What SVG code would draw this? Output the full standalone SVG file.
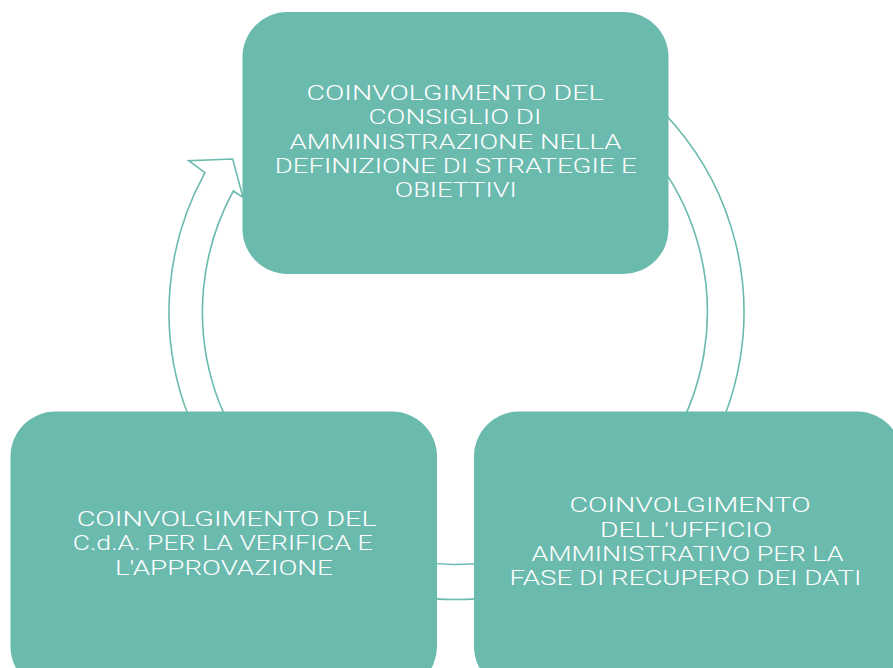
<svg xmlns="http://www.w3.org/2000/svg" width="893" height="668" viewBox="0 0 893 668">
<style>
.box{fill:#6BBAAE;}
.t{font-family:Roboto,"Liberation Sans",sans-serif;font-weight:300;font-size:20.6px;fill:#ffffff;text-anchor:middle;}
.ring{fill:#ffffff;stroke:#6BBAAE;stroke-width:1.6;stroke-linejoin:miter;}
</style>
<rect width="893" height="668" fill="#ffffff"/>
<g id="connectors">
<path class="ring" d="M 205,172.7 A 287.5 287.5 0 1 0 455.5,24.5 L 455.5,59.5 A 252.5 252.5 0 1 1 233.3,191 L 243,197.5 L 232.7,159 L 188.7,160.7 Z"/>
</g>
<g id="node-top">
<rect class="box" x="242.5" y="12" width="426" height="262" rx="45" ry="45"/>
<text class="t"><tspan x="455" y="100" textLength="297" lengthAdjust="spacingAndGlyphs">COINVOLGIMENTO DEL</tspan><tspan x="455" y="124.3" textLength="173" lengthAdjust="spacingAndGlyphs">CONSIGLIO DI</tspan><tspan x="455.5" y="148.6" textLength="332" lengthAdjust="spacingAndGlyphs">AMMINISTRAZIONE NELLA</tspan><tspan x="455.8" y="172.9" textLength="362" lengthAdjust="spacingAndGlyphs">DEFINIZIONE DI STRATEGIE E</tspan><tspan x="455.8" y="197.2" textLength="122" lengthAdjust="spacingAndGlyphs">OBIETTIVI</tspan></text>
</g>
<g id="node-right">
<rect class="box" x="474" y="411.5" width="428" height="280" rx="45" ry="45"/>
<text class="t"><tspan x="690" y="512.3" textLength="241" lengthAdjust="spacingAndGlyphs">COINVOLGIMENTO</tspan><tspan x="686" y="536.6" textLength="172" lengthAdjust="spacingAndGlyphs">DELL'UFFICIO</tspan><tspan x="687.5" y="560.9" textLength="312" lengthAdjust="spacingAndGlyphs">AMMINISTRATIVO PER LA</tspan><tspan x="685.5" y="585.2" textLength="352" lengthAdjust="spacingAndGlyphs">FASE DI RECUPERO DEI DATI</tspan></text>
</g>
<g id="node-left">
<rect class="box" x="10.5" y="411.5" width="426.5" height="280" rx="45" ry="45"/>
<text class="t"><tspan x="226.7" y="526" textLength="300" lengthAdjust="spacingAndGlyphs">COINVOLGIMENTO DEL</tspan><tspan x="222.7" y="550.3" textLength="300" lengthAdjust="spacingAndGlyphs">C.d.A. PER LA VERIFICA E</tspan><tspan x="223.9" y="574.6" textLength="218" lengthAdjust="spacingAndGlyphs">L'APPROVAZIONE</tspan></text>
</g>
</svg>
